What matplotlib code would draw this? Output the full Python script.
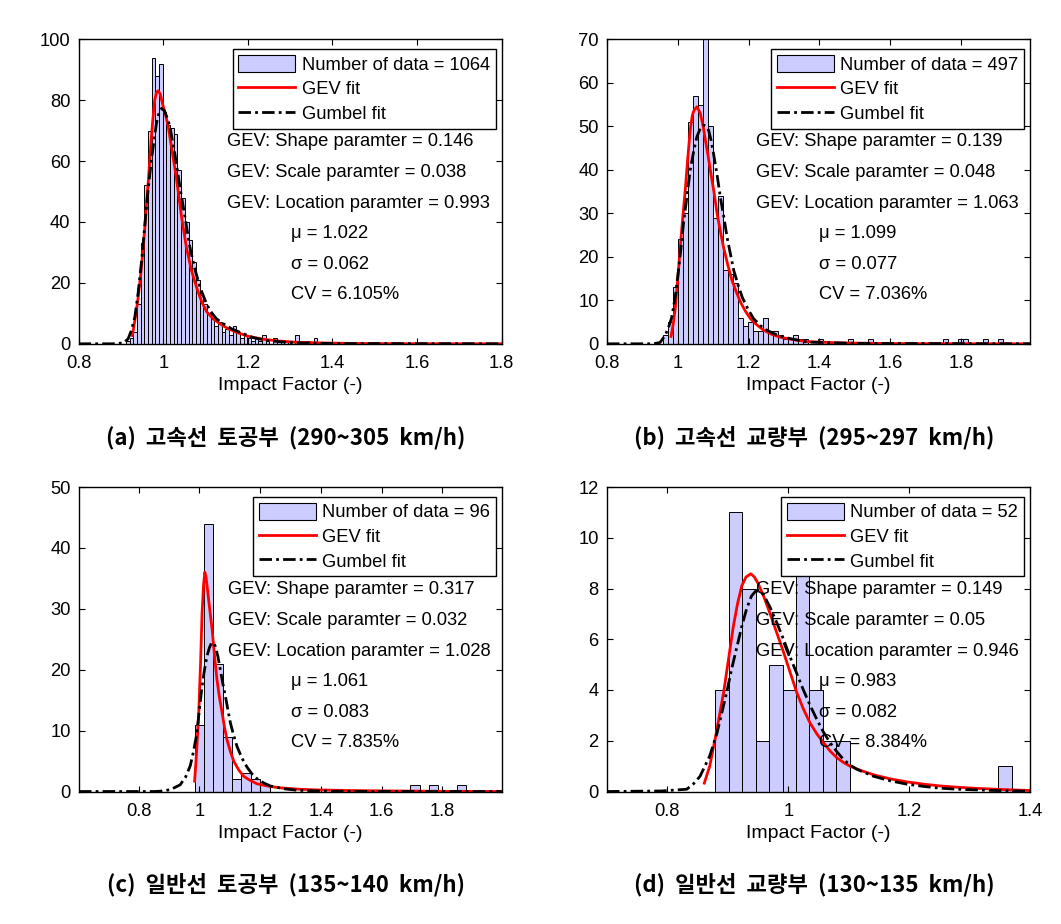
import numpy as np
import matplotlib.pyplot as plt
from matplotlib.patches import Patch
from matplotlib.lines import Line2D

plt.rcParams['font.family'] = ['Liberation Sans', 'DejaVu Sans']

# ---------------- data ----------------
titles = ['(a)  고속선  토공부  (290~305  km/h)',
          '(b)  고속선  교량부  (295~297  km/h)',
          '(c)  일반선  토공부  (135~140  km/h)',
          '(d)  일반선  교량부  (130~135  km/h)']
n_data = [1064, 497, 96, 52]
gev_shape = ['0.146', '0.139', '0.317', '0.149']
gev_scale = ['0.038', '0.048', '0.032', '0.05']
gev_loc = ['0.993', '1.063', '1.028', '0.946']
mu_vals = ['1.022', '1.099', '1.061', '0.983']
sigma_vals = ['0.062', '0.077', '0.083', '0.082']
cv_vals = ['6.105%', '7.036%', '7.835%', '8.384%']

# histogram bins: first edge, bin width, counts
bin_start = [0.912, 0.9595, 0.9845, 0.879]
bin_width = [0.0087, 0.0141, 0.03085, 0.0223]
counts_a = [1, 2, 4, 13, 33, 52, 70, 94, 88, 92,
            76, 72, 71, 69, 57, 48, 40, 34, 27, 21,
            16, 13, 10, 8, 6, 7, 4, 5, 3, 6,
            4, 2, 3, 2, 1, 2, 1, 3, 1, 0,
            2, 1, 0, 1, 0, 0, 3, 0, 0, 1,
            0, 2]
counts_b = [2, 5, 13, 24, 30, 51, 57, 55, 70, 50,
            29, 34, 17, 16, 14, 6, 4, 5, 3, 3,
            6, 3, 3, 2, 1, 1, 2, 1, 1, 0,
            0, 1, 0, 0, 0, 0, 0, 1, 0, 0,
            0, 1, 0, 0, 0, 0, 0, 0, 0, 0,
            0, 0, 0, 0, 0, 0, 1, 0, 0, 1,
            1, 0, 0, 0, 1, 0, 0, 1]
counts_c = [11, 44, 21, 9, 2, 3, 2, 1, 0, 0,
            0, 0, 0, 0, 0, 0, 0, 0, 0, 0,
            0, 0, 0, 1, 0, 1, 0, 0, 1]
counts_d = [4, 11, 8, 2, 5, 4, 9, 4, 2, 2,
            0, 0, 0, 0, 0, 0, 0, 0, 0, 0,
            0, 1]

# fitted curves (GEV and Gumbel)
gev_a_x = [0.927, 0.934, 0.941, 0.947, 0.953, 0.959, 0.965, 0.970, 0.975, 0.980,
           0.984, 0.988, 0.993, 0.999, 1.006, 1.012, 1.022, 1.032, 1.043, 1.055,
           1.067, 1.079, 1.091, 1.103, 1.118, 1.134, 1.153, 1.173, 1.2, 1.236,
           1.275, 1.315, 1.38, 1.45, 1.55, 1.65, 1.8]
gev_a_y = [2.7, 8.5, 15.4, 23, 31.8, 43, 53.7, 64, 73, 80,
           82.5, 83.1, 82, 78.5, 75, 71.3, 62.5, 53.7, 42, 31.5,
           24, 18.5, 13.8, 10.5, 8.2, 6.6, 5.0, 3.8, 2.5, 1.5,
           0.9, 0.5, 0.25, 0.12, 0.05, 0.02, 0]
gum_a_x = [0.8, 0.88, 0.906, 0.917, 0.925, 0.933, 0.941, 0.949, 0.955, 0.961,
           0.967, 0.973, 0.979, 0.984, 0.990, 0.996, 1.003, 1.010, 1.016, 1.028,
           1.039, 1.051, 1.063, 1.075, 1.087, 1.099, 1.110, 1.126, 1.142, 1.162,
           1.181, 1.213, 1.25, 1.3, 1.4, 1.8]
gum_a_y = [0, 0, 0.3, 1.6, 4.5, 8.8, 17, 27.4, 36.5, 46,
           54, 61.4, 67.5, 72.4, 75.8, 77.3, 76.5, 74, 71.3, 62,
           52, 42, 31.8, 24.5, 18.6, 14.3, 11, 8.2, 6.6, 4.9,
           3.8, 2.0, 1.0, 0.4, 0.1, 0]

gev_b_x = [0.981, 0.987, 0.993, 1.000, 1.007, 1.014, 1.021, 1.028, 1.035, 1.041,
           1.046, 1.054, 1.0635, 1.071, 1.078, 1.085, 1.092, 1.102, 1.111, 1.120,
           1.129, 1.141, 1.153, 1.165, 1.177, 1.191, 1.205, 1.224, 1.243, 1.265,
           1.290, 1.33, 1.366, 1.46, 1.6, 1.8, 1.995]
gev_b_y = [1.7, 4.5, 8.4, 15, 22.3, 29, 35.3, 42.5, 49.1, 52.5,
           53.7, 54.5, 53, 50.3, 46.8, 43.5, 39.9, 35, 29.9, 26,
           22.3, 18.2, 14.6, 12, 9.6, 7.5, 5.8, 4.3, 3.1, 2.2,
           1.5, 0.9, 0.5, 0.2, 0.06, 0.01, 0]
gum_b_x = [0.8, 0.93, 0.950, 0.964, 0.973, 0.983, 0.993, 1.002, 1.009, 1.016,
           1.026, 1.035, 1.045, 1.054, 1.064, 1.073, 1.080, 1.087, 1.094, 1.101,
           1.111, 1.120, 1.130, 1.139, 1.149, 1.158, 1.170, 1.182, 1.198, 1.214,
           1.233, 1.252, 1.275, 1.299, 1.366, 1.5, 1.995]
gum_b_y = [0, 0, 0.3, 1.9, 3.6, 6.1, 10.9, 16.9, 22, 27.6,
           34, 39.9, 44.3, 47.6, 49.6, 50.3, 50.0, 49.1, 46.8, 43.7,
           38.8, 33.8, 29.2, 24.6, 20.5, 16.9, 13.6, 10.7, 8, 5.8,
           4.2, 3.1, 2.2, 1.5, 0.4, 0.1, 0]

gev_c_x = [0.9845, 0.991, 0.998, 1.004, 1.009, 1.014, 1.018, 1.022, 1.027, 1.034,
           1.042, 1.050, 1.058, 1.066, 1.075, 1.083, 1.091, 1.102, 1.113, 1.130,
           1.146, 1.168, 1.190, 1.23, 1.267, 1.32, 1.377, 1.48, 1.597, 1.8, 1.995]
gev_c_y = [1.7, 6.5, 12.9, 21, 29.3, 34, 36.0, 35.2, 33.1, 30,
           26.6, 22.3, 18.4, 15.5, 12.9, 10.5, 8.5, 6.6, 5.0, 3.5,
           2.5, 1.8, 1.26, 0.85, 0.6, 0.4, 0.27, 0.17, 0.1, 0.03, 0]
gum_c_x = [0.604, 0.85, 0.871, 0.905, 0.937, 0.955, 0.970, 0.981, 0.992, 1.000,
           1.009, 1.017, 1.025, 1.033, 1.040, 1.047, 1.053, 1.061, 1.069, 1.077,
           1.086, 1.094, 1.102, 1.113, 1.124, 1.140, 1.157, 1.173, 1.190, 1.212,
           1.234, 1.278, 1.322, 1.4, 1.49, 1.995]
gum_c_y = [0, 0, 0.05, 0.3, 1.1, 2.4, 4.2, 6.6, 9.6, 13.4,
           17.3, 20, 22.2, 23.6, 24.4, 24.4, 23.8, 22.2, 20.0, 17.8,
           15.6, 13.4, 11.3, 9.2, 7.4, 5.5, 4.0, 2.9, 2.1, 1.4,
           0.9, 0.45, 0.2, 0.07, 0.02, 0]

gev_d_x = [0.861, 0.870, 0.880, 0.893, 0.901, 0.909, 0.916, 0.923, 0.930, 0.938,
           0.944, 0.950, 0.960, 0.970, 0.981, 0.992, 1.003, 1.014, 1.025, 1.036,
           1.047, 1.058, 1.069, 1.080, 1.091, 1.102, 1.121, 1.141, 1.168, 1.196,
           1.224, 1.251, 1.279, 1.306, 1.334, 1.362, 1.4]
gev_d_y = [0.33, 1.0, 2.2, 3.9, 5.2, 6.5, 7.4, 8.1, 8.45, 8.58,
           8.45, 8.2, 7.65, 7.0, 6.25, 5.5, 4.7, 3.9, 3.25, 2.7,
           2.28, 1.93, 1.6, 1.34, 1.15, 1.0, 0.82, 0.66, 0.5, 0.38,
           0.29, 0.22, 0.17, 0.13, 0.1, 0.07, 0.04]
gum_d_x = [0.7, 0.79, 0.832, 0.843, 0.854, 0.862, 0.870, 0.876, 0.882, 0.890,
           0.898, 0.906, 0.915, 0.923, 0.931, 0.939, 0.946, 0.952, 0.959, 0.970,
           0.981, 0.992, 1.003, 1.014, 1.025, 1.036, 1.047, 1.058, 1.069, 1.080,
           1.091, 1.102, 1.113, 1.141, 1.169, 1.196, 1.224, 1.252, 1.279, 1.34, 1.4]
gum_d_y = [0, 0.02, 0.09, 0.3, 0.6, 1.0, 1.4, 1.85, 2.3, 3.1,
           3.9, 4.8, 5.7, 6.5, 7.2, 7.7, 7.9, 7.9, 7.76, 7.25,
           6.65, 6.0, 5.3, 4.65, 4.0, 3.4, 2.85, 2.35, 1.93, 1.58,
           1.27, 1.05, 0.88, 0.6, 0.42, 0.29, 0.2, 0.13, 0.09, 0.04, 0.01]

counts = [counts_a, counts_b, counts_c, counts_d]
gev_x = [gev_a_x, gev_b_x, gev_c_x, gev_d_x]
gev_y = [gev_a_y, gev_b_y, gev_c_y, gev_d_y]
gum_x = [gum_a_x, gum_b_x, gum_c_x, gum_d_x]
gum_y = [gum_a_y, gum_b_y, gum_c_y, gum_d_y]

# axes settings per panel
xlims = [(0.8, 1.8), (0.8, 1.995), (0.604, 1.996), (0.7, 1.4)]
ylims = [(0, 100), (0, 70), (0, 50), (0, 12)]
ysteps = [20, 10, 10, 2]
xtick_vals = [[0.8, 1.0, 1.2, 1.4, 1.6, 1.8]] * 3 + [[0.8, 1.0, 1.2, 1.4]]
xtick_labels = [['0.8', '1', '1.2', '1.4', '1.6', '1.8']] * 3 + [['0.8', '1', '1.2', '1.4']]

# axes boxes in pixels (left, top) of a 1061 x 924 figure
W, H = 1061, 924
boxes = [(78.6, 39.3), (607, 39.3), (79, 487), (607, 487)]
box_w, box_h = 423, 304.5
title_xy = [(286, 438), (814, 438), (286, 885), (814, 885)]

bar_color = '#CCCCFF'
dash = (0, (4.5, 1.5, 1, 1.5))
fs = 13.2

fig = plt.figure(figsize=(W / 100, H / 100), dpi=100)

for i in range(4):
    left, top = boxes[i]
    ax = fig.add_axes([left / W, 1 - (top + box_h) / H, box_w / W, box_h / H])

    c = np.array(counts[i])
    edges = bin_start[i] + bin_width[i] * np.arange(len(c))
    ax.bar(edges, c, width=bin_width[i], align='edge', color=bar_color,
           edgecolor='black', linewidth=0.7, zorder=1)
    ax.plot(gev_x[i], gev_y[i], color='red', lw=2.0, zorder=2)
    ax.plot(gum_x[i], gum_y[i], color='black', lw=2.0, linestyle=dash, zorder=3)

    ax.set_xlim(*xlims[i])
    ax.set_ylim(*ylims[i])
    ax.set_yticks(np.arange(ylims[i][0], ylims[i][1] + 0.1, ysteps[i]))
    ax.set_xticks(xtick_vals[i])
    ax.set_xticklabels(xtick_labels[i])
    ax.tick_params(direction='in', top=True, right=True, length=4,
                   labelsize=fs, width=0.8)
    ax.tick_params(axis='x', pad=8)
    ax.tick_params(axis='y', pad=6)
    for s in ax.spines.values():
        s.set_linewidth(1.0)
    ax.set_xlabel('Impact Factor (-)', fontsize=14, labelpad=4)

    handles = [Patch(facecolor=bar_color, edgecolor='black', linewidth=0.8),
               Line2D([], [], color='red', lw=2.0),
               Line2D([], [], color='black', lw=2.0, linestyle=dash)]
    labels = ['Number of data = %d' % n_data[i], 'GEV fit', 'Gumbel fit']
    leg = ax.legend(handles, labels, loc='upper right', bbox_to_anchor=(0.986, 0.968),
                    borderaxespad=0, fontsize=fs, frameon=True, fancybox=False,
                    edgecolor='black', framealpha=1, handlelength=3.1,
                    handleheight=1.05, handletextpad=0.35, labelspacing=0.32,
                    borderpad=0.32)
    leg.get_frame().set_linewidth(1.0)
    leg.set_zorder(5)

    tx, mx = 0.352, 0.501
    ax.text(tx, 0.663, 'GEV: Shape paramter = ' + gev_shape[i], transform=ax.transAxes,
            fontsize=fs, va='center', ha='left', zorder=6)
    ax.text(tx, 0.561, 'GEV: Scale paramter = ' + gev_scale[i], transform=ax.transAxes,
            fontsize=fs, va='center', ha='left', zorder=6)
    ax.text(tx, 0.461, 'GEV: Location paramter = ' + gev_loc[i], transform=ax.transAxes,
            fontsize=fs, va='center', ha='left', zorder=6)
    ax.text(mx, 0.362, 'μ = ' + mu_vals[i], transform=ax.transAxes,
            fontsize=fs, va='center', ha='left', zorder=6)
    ax.text(mx, 0.260, 'σ = ' + sigma_vals[i], transform=ax.transAxes,
            fontsize=fs, va='center', ha='left', zorder=6)
    ax.text(mx, 0.161, 'CV = ' + cv_vals[i], transform=ax.transAxes,
            fontsize=fs, va='center', ha='left', zorder=6)

    fig.text(title_xy[i][0] / W, 1 - title_xy[i][1] / H, titles[i],
             family=['Noto Sans CJK KR', 'DejaVu Sans'], fontweight='bold',
             fontsize=16, ha='center', va='center')

fig.savefig('out.png', dpi=100)
